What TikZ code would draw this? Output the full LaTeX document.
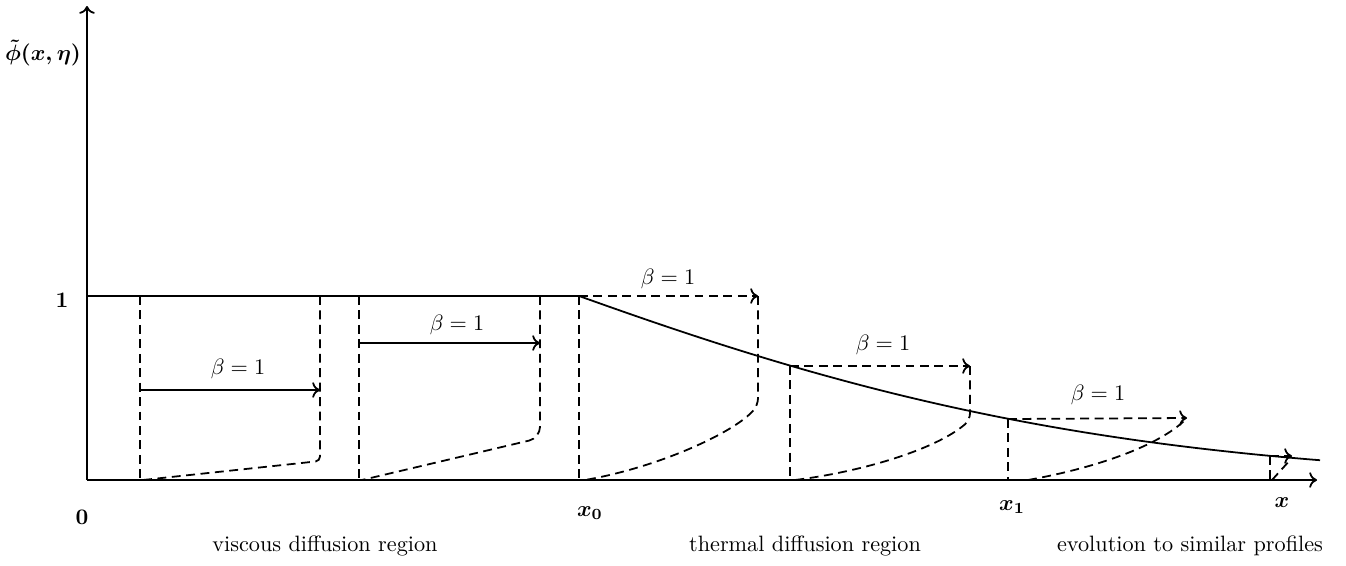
\documentclass[tikz,border=0pt]{standalone}
\usepackage{amsmath,amssymb}
\usepackage{tikz}
\usetikzlibrary{arrows.meta}

\begin{document}
\begin{tikzpicture}[
    x=0.45pt, y=-0.45pt,
    axis/.style={line width=0.8pt},
    arr/.style={-{To[length=3.5pt,width=7pt]}, line width=0.8pt},
    prof/.style={line width=0.8pt, dash pattern=on 4pt off 2.5pt},
    tick/.style={inner sep=1pt, font=\boldmath},
    lbl/.style={anchor=base, inner sep=0pt}
]
\useasboundingbox (0,0) rectangle (1346,565);

\coordinate (O) at (87,480);
\coordinate (ytop) at (87,6);
\coordinate (xend) at (1317,480);
\coordinate (one) at (87,296);
\coordinate (x0top) at (579,296);

\draw[arr] (O) -- (ytop);
\draw[arr] (O) -- (xend);
\draw[axis] (one) -- (x0top);
\draw[axis] plot[domain=579:1320, samples=80, variable=\t]
    (\t, {480-184*exp(-0.195*(\t-579)/100-0.0143*((\t-579)/100)^2)});

\node[tick] (phi) at (43,53) {$\tilde\phi(x,\eta)$};
\node[tick] (lone) at (62,300) {$1$};
\node[tick] (lzero) at (82,517) {$0$};
\node[tick] (lxzero) at (590,513) {$x_0$};
\node[tick] (lxone) at (1012,507) {$x_1$};
\node[tick] (lx) at (1282,503) {$x$};

\coordinate (a0) at (140,390);
\coordinate (a1) at (320,390);
\draw[prof] (140,296) -- (140,480);
\draw[arr] (a0) -- (a1);
\draw[prof, rounded corners=2pt] (320,296) -- (320,461) -- (143,480);
\node (ba) at (238,369) {$\beta=1$};

\coordinate (b0) at (359,343);
\coordinate (b1) at (540,343);
\draw[prof] (359,296) -- (359,480);
\draw[arr] (b0) -- (b1);
\draw[prof, rounded corners=5pt] (540,296) -- (540,438) -- (362,480);
\node (bb) at (457,325) {$\beta=1$};

\coordinate (c1) at (758,296);
\draw[prof] (x0top) -- (579,480);
\draw[prof, arr] (x0top) -- (c1);
\draw[prof, rounded corners=3pt] (c1) -- (758,405) .. controls (735,432) and (660,467) .. (585,480);
\node (bc) at (668,279) {$\beta=1$};

\coordinate (d0) at (790,366);
\coordinate (d1) at (970,366);
\draw[prof] (d0) -- (790,480);
\draw[prof, arr] (d0) -- (d1);
\draw[prof, rounded corners=3pt] (d1) -- (970,420) .. controls (935,450) and (860,472) .. (795,480);
\node (bd) at (883,345) {$\beta=1$};

\coordinate (e0) at (1008,419);
\coordinate (e1) at (1187,418);
\draw[prof] (e0) -- (1008,480);
\draw[prof, arr] (e0) -- (e1);
\draw[prof] (1028,480) .. controls (1095,468) and (1160,446) .. (e1);
\node (be) at (1098,395) {$\beta=1$};

\coordinate (f0) at (1270,456);
\coordinate (f1) at (1292,456);
\draw[prof] (f0) -- (1270,480);
\draw[prof, arr] (f0) -- (f1);
\draw[prof] (1272,480) -- (1291,459);

\node[lbl] (visc) at (325,551) {viscous diffusion region};
\node[lbl] (therm) at (805,551) {thermal diffusion region};
\node[lbl] (evol) at (1190,551) {evolution to similar profiles};
\end{tikzpicture}
\end{document}
